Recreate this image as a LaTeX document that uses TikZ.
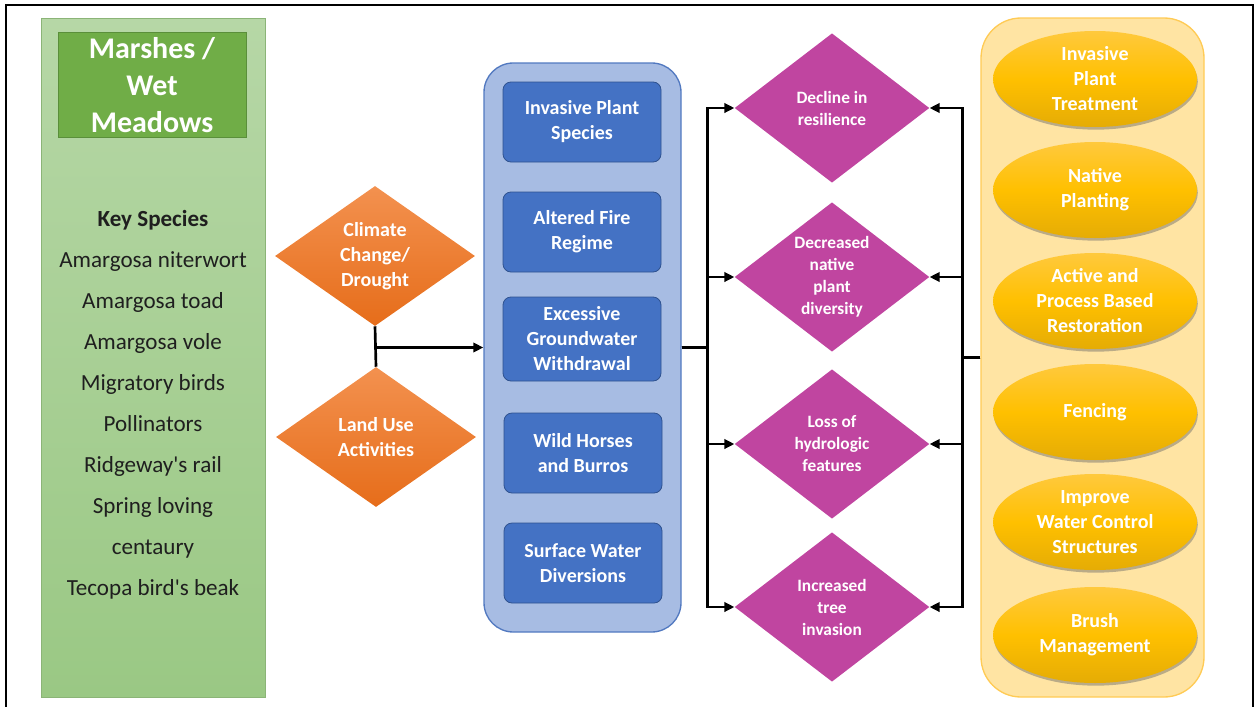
\documentclass[tikz,border=0pt]{standalone}
\usepackage{fontspec}
\setmainfont{Carlito}
\usepackage{xcolor}
\usetikzlibrary{shapes.geometric,arrows.meta,shadows}

\definecolor{greenpanelA}{HTML}{B6D7A6}
\definecolor{greenpanelB}{HTML}{9AC884}
\definecolor{titlegreen}{HTML}{70AD47}
\definecolor{titleedge}{HTML}{5A8F3A}
\definecolor{orangeA}{HTML}{F3914F}
\definecolor{orangeB}{HTML}{E66D1A}
\definecolor{bluepanel}{HTML}{A7BCE3}
\definecolor{bluepaneledge}{HTML}{5279C0}
\definecolor{bluebox}{HTML}{4472C4}
\definecolor{blueboxedge}{HTML}{2F528F}
\definecolor{effectpurple}{HTML}{C045A0}
\definecolor{yellowpanel}{HTML}{FFE4A3}
\definecolor{yellowedge}{HTML}{FFCB55}
\definecolor{goldA}{HTML}{FFC93D}
\definecolor{goldM}{HTML}{FFC000}
\definecolor{goldB}{HTML}{E5AC05}

\begin{document}
\begin{tikzpicture}[x=0.75pt,y=0.75pt,yscale=-1,xscale=1,
    labelfont/.style={font=\bfseries\fontsize{15}{18.75}\selectfont},
    link/.style={line width=2pt,-{Triangle[length=7.5pt,width=7pt]}},
    wire/.style={line width=2pt},
    threat/.style={diamond,aspect=1.43,inner sep=0pt,minimum width=150pt,minimum height=105pt,top color=orangeA,bottom color=orangeB,draw=none,text=white,align=center,labelfont},
    stressor/.style={rectangle,rounded corners=6pt,minimum width=118.5pt,minimum height=60pt,fill=bluebox,draw=blueboxedge,line width=0.6pt,text=white,align=center,labelfont},
    effect/.style={diamond,aspect=1.3,inner sep=0pt,minimum width=146pt,minimum height=112pt,fill=effectpurple,draw=none,text=white,align=center,font=\bfseries\fontsize{13}{16.5}\selectfont},
    action/.style={ellipse,inner sep=0pt,minimum width=153pt,minimum height=72pt,top color=goldA,bottom color=goldB,middle color=goldM,draw=none,text=white,align=center,labelfont,drop shadow={shadow xshift=0.6pt,shadow yshift=-2pt,opacity=0.45,fill=black!60}}
  ]
    \useasboundingbox (0,0) rectangle (1257,707);
    %Frame
    \draw [line width=2.2pt] (6,707) -- (6,5) -- (1253,5) -- (1253,707) ;

    %Shape: Rectangle [habitat panel]
    \node (habitat) [rectangle,minimum width=168pt,minimum height=509.25pt,top color=greenpanelA,bottom color=greenpanelB,draw=greenpanelB!90!black,line width=0.4pt] at (153,357.5) {};
    % Text Node
    \node (title) [rectangle,minimum width=141pt,minimum height=78.75pt,fill=titlegreen,draw=titleedge,line width=0.6pt,text=white,align=center,font=\bfseries\fontsize{22.5}{27.75}\selectfont] at (152,85) {Marshes /\\Wet\\Meadows};
    % Text Node
    \node (species) [align=center,text=black!88,font=\fontsize{17.3}{30.75}\selectfont] at (153,405) {\textbf{Key Species}\\Amargosa niterwort\\Amargosa toad\\Amargosa vole\\Migratory birds\\Pollinators\\Ridgeway\textquotesingle s rail\\Spring loving\\centaury\\Tecopa bird\textquotesingle s beak};

    %Shape: Diamond [threats]
    \node (climate) [threat] at (375,256) {Climate\\Change/\\Drought};
    \node (landuse) [threat] at (376,437) {Land Use\\Activities};

    %Shape: Rounded Rectangle [stressors]
    \node (stress) [rectangle,rounded corners=22pt,minimum width=147.75pt,minimum height=426.75pt,fill=bluepanel,draw=bluepaneledge,line width=1pt] at (582.5,347.5) {};
    \node (invasive) [stressor] at (582,122) {Invasive Plant\\Species};
    \node (fire) [stressor] at (582,232) {Altered Fire\\Regime};
    \node (ground) [stressor,minimum height=63pt] at (582,339) {Excessive\\Groundwater\\Withdrawal};
    \node (horses) [stressor] at (583,453) {Wild Horses\\and Burros};
    \node (surface) [stressor] at (583,563) {Surface Water\\Diversions};

    %Shape: Diamond [effects]
    \node (decline) [effect] at (832,108) {Decline in\\resilience};
    \node (native) [effect] at (832,277) {Decreased\\native\\plant\\diversity};
    \node (hydro) [effect] at (832,444) {Loss of\\hydrologic\\features};
    \node (tree) [effect] at (832,607) {Increased\\tree\\invasion};

    %Shape: Rounded Rectangle [actions]
    \node (actions) [rectangle,rounded corners=30pt,minimum width=167.25pt,minimum height=509.25pt,fill=yellowpanel,draw=yellowedge,line width=1pt] at (1092.5,357.5) {};
    \node (treat) [action] at (1095,79) {Invasive\\Plant\\Treatment};
    \node (plant) [action] at (1095,190) {Native\\Planting};
    \node (restore) [action] at (1095,301) {Active and\\Process Based\\Restoration};
    \node (fence) [action] at (1095,412) {Fencing};
    \node (water) [action] at (1095,522) {Improve\\Water Control\\Structures};
    \node (brush) [action] at (1095,635) {Brush\\Management};

    %Straight Lines
    \draw [wire] (climate.south) -- (landuse.north) ;
    \draw [link] (climate.south |- stress.west) -- (stress.west) ;
    \foreach \e in {decline,native,hydro,tree}
      \draw [link] (stress.east) -- ++(26,0) |- (\e.west) ;
    \foreach \e in {decline,native,hydro,tree}
      \draw [link] (actions.west) -- ++(-18,0) |- (\e.east) ;

\end{tikzpicture}
\end{document}
